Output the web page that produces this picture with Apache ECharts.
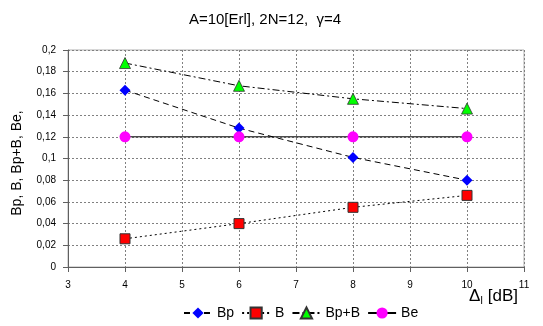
<!DOCTYPE html>
<html>
<head>
<meta charset="utf-8">
<script src="https://cdn.jsdelivr.net/npm/echarts@6/dist/echarts.min.js"></script>
<style>html,body{margin:0;padding:0;background:#fff}#c{width:543px;height:326px}</style>
</head>
<body>
<div id="c"></div>
<script>
const xValues = [4, 6, 8, 10];
const bp = [0.163, 0.128, 0.101, 0.080];
const b = [0.026, 0.040, 0.055, 0.066];
const bpb = [0.188, 0.167, 0.155, 0.146];
const be = [0.12, 0.12, 0.12, 0.12];
const seriesNames = ['Bp', 'B', 'Bp+B', 'Be'];
const titleText = 'A=10[Erl], 2N=12,  \u03b3=4';
const yName = 'Bp, B, Bp+B, Be,';

const pair = arr => xValues.map((x, i) => [x, arr[i]]);
const font = 'Liberation Sans, Arial, sans-serif';

const chart = echarts.init(document.getElementById('c'), null, {renderer: 'canvas'});
chart.setOption({
  animation: false,
  backgroundColor: '#fff',
  textStyle: {fontFamily: font},
  title: {
    text: titleText, left: 260, top: 7, textAlign: 'center',
    textStyle: {fontSize: 15, fontWeight: 'normal', color: '#000', fontFamily: font}
  },
  grid: {left: 68, right: 19, top: 50, bottom: 59, show: true, borderColor: '#b0b0b0', borderWidth: 1},
  xAxis: {
    type: 'value', min: 3, max: 11, interval: 1,
    axisLine: {lineStyle: {color: '#606060'}},
    axisTick: {show: true, length: 5, inside: false, lineStyle: {color: '#606060'}},
    axisLabel: {fontSize: 10, color: '#000', margin: 13, fontFamily: font},
    splitLine: {show: true, lineStyle: {color: '#808080', type: [2, 2], width: 1}}
  },
  yAxis: {
    type: 'value', min: 0, max: 0.2, interval: 0.02,
    axisLine: {show: true, lineStyle: {color: '#606060'}},
    axisTick: {show: true, length: 5, lineStyle: {color: '#606060'}},
    axisLabel: {fontSize: 10, color: '#000', margin: 12, fontFamily: font,
      formatter: v => String(+v.toFixed(2)).replace('.', ',')},
    splitLine: {show: true, lineStyle: {color: '#808080', type: [2, 2], width: 1}}
  },
  legend: {
    bottom: 1, left: 178, itemWidth: 28, itemHeight: 14, itemGap: 7,
    textStyle: {fontSize: 14, color: '#000', fontFamily: font},
    data: seriesNames
  },
  graphic: [
    {type: 'text', left: 469, top: 288, style: {
      text: '{a|\u0394}{s|I}{a| [dB]}', fill: '#000',
      rich: {a: {fontSize: 17, fontFamily: font, fill: '#000'}, s: {fontSize: 10, fontFamily: font, fill: '#000', verticalAlign: 'bottom', padding: [9, 0, 0, 0]}}
    }},
    {type: 'text', x: 17, y: 163, rotation: Math.PI / 2, style: {
      text: yName, fontSize: 14, fontFamily: font, fill: '#000', align: 'center', verticalAlign: 'middle'
    }}
  ],
  series: [
    {name: seriesNames[0], type: 'line', data: pair(bp), symbol: 'diamond', symbolSize: 11,
      itemStyle: {color: '#0000ff'}, lineStyle: {color: '#000', width: 1, type: [6, 4]}},
    {name: seriesNames[1], type: 'line', data: pair(b), symbol: 'rect', symbolSize: 10,
      itemStyle: {color: '#ff0000', borderColor: '#333', borderWidth: 1}, lineStyle: {color: '#000', width: 1, type: [2, 3]}},
    {name: seriesNames[2], type: 'line', data: pair(bpb), symbol: 'triangle', symbolSize: 11,
      itemStyle: {color: '#00ff00', borderColor: '#333', borderWidth: 0.8}, lineStyle: {color: '#000', width: 1, type: [7, 3, 2, 3]}},
    {name: seriesNames[3], type: 'line', data: pair(be), symbol: 'circle', symbolSize: 11,
      itemStyle: {color: '#ff00ff'}, lineStyle: {color: '#000', width: 1, type: 'solid'}}
  ]
});
</script>
</body>
</html>
